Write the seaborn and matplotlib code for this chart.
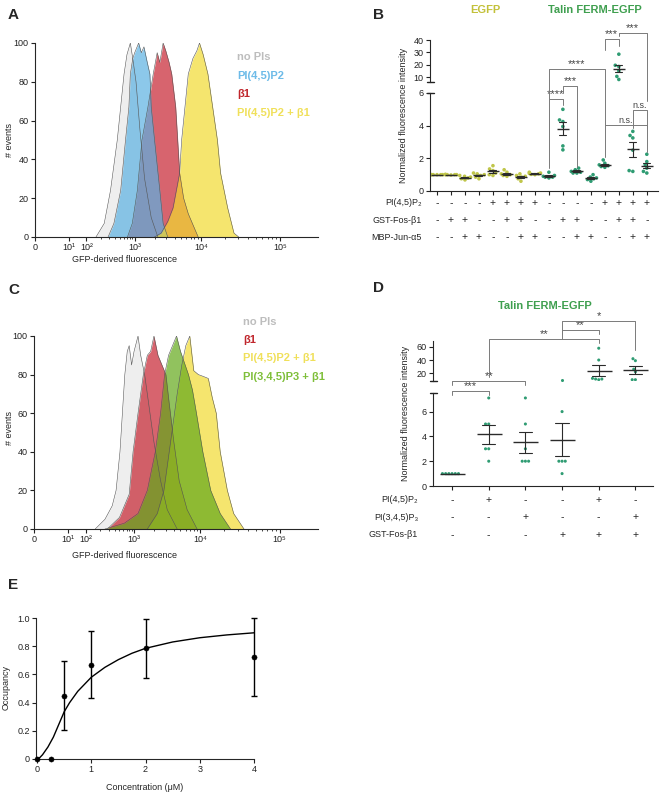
"""Flow cytometry histograms and talin FERM binding summary (panels A-E)."""

import warnings

import matplotlib

matplotlib.use("Agg")
import matplotlib.pyplot as plt
import numpy as np
import pandas as pd
import seaborn as sns

warnings.filterwarnings("ignore")

W, H = 661, 796

# ---- A: flow histograms, log10(GFP fluorescence) vs # events
A_NOPI_LOG = [2.2, 2.37, 2.5, 2.64, 2.71, 2.78, 2.84, 2.91, 2.96, 3.02, 3.08, 3.15, 3.25, 3.35]
A_NOPI_CNT = [0, 7, 24, 50, 67, 84, 94, 100, 92, 80, 55, 30, 10, 0]
A_PIP2_LOG = [2.45, 2.57, 2.71, 2.81, 2.88, 2.91, 2.96, 3.0, 3.06, 3.1, 3.14, 3.19, 3.23, 3.25, 3.3,
              3.38, 3.43, 3.5]
A_PIP2_CNT = [0, 7, 24, 50, 67, 84, 92, 95, 100, 95, 98, 90, 84, 67, 50, 24, 7, 0]
A_B1_LOG = [2.85, 2.95, 3.04, 3.11, 3.2, 3.28, 3.34, 3.38, 3.43, 3.47, 3.52, 3.56, 3.62, 3.65, 3.68,
            3.74, 3.81, 3.96]
A_B1_CNT = [0, 7, 24, 50, 67, 84, 95, 90, 100, 96, 90, 84, 67, 50, 33, 20, 12, 0]
A_BOTH_LOG = [3.3, 3.4, 3.5, 3.58, 3.68, 3.71, 3.76, 3.81, 3.88, 3.94, 3.98, 4.03, 4.09, 4.15, 4.21,
              4.25, 4.34, 4.42, 4.48]
A_BOTH_CNT = [0, 2, 8, 15, 33, 50, 67, 84, 92, 96, 100, 94, 84, 67, 50, 33, 15, 2, 0]

# ---- C: flow histograms
C_NOPI_LOG = [2.2, 2.4, 2.55, 2.63, 2.71, 2.76, 2.81, 2.86, 2.9, 2.95, 3.0, 3.06, 3.1, 3.16, 3.22,
              3.3, 3.4, 3.5, 3.65]
C_NOPI_CNT = [0, 5, 12, 20, 40, 60, 80, 92, 95, 85, 92, 100, 90, 80, 65, 45, 25, 10, 0]
C_B1_LOG = [2.45, 2.7, 2.9, 2.98, 3.06, 3.14, 3.2, 3.25, 3.3, 3.36, 3.42, 3.48, 3.53, 3.6, 3.68,
            3.8, 3.95]
C_B1_CNT = [0, 6, 18, 40, 60, 80, 90, 92, 100, 90, 85, 80, 65, 45, 25, 10, 0]
C_PIP2_LOG = [3.2, 3.35, 3.45, 3.55, 3.65, 3.72, 3.78, 3.84, 3.9, 3.97, 4.04, 4.1, 4.15, 4.2, 4.25,
              4.34, 4.42, 4.55]
C_PIP2_CNT = [0, 8, 20, 45, 70, 85, 95, 100, 82, 80, 79, 78, 68, 60, 40, 20, 8, 0]
C_PIP3_LOG = [2.4, 2.8, 3.06, 3.2, 3.32, 3.4, 3.46, 3.52, 3.58, 3.64, 3.7, 3.76, 3.82, 3.88, 3.94,
              4.03, 4.13, 4.25, 4.38]
C_PIP3_CNT = [0, 3, 8, 20, 40, 60, 80, 90, 95, 100, 92, 86, 80, 72, 60, 40, 20, 8, 0]

FLOW_TICKS = [0, 10, 100, 1e3, 1e4, 1e5]
FLOW_TICKLABELS = ["0", "10¹", "10²", "10³", "10⁴", "10⁵"]

# ---- B: normalized fluorescence, 16 conditions
B_VALUES = [
    [1.0, 1.0, 1.0, 1.0, 1.0, 1.0],
    [1.0, 0.98, 1.0, 1.02, 1.0, 1.0],
    [0.95, 0.85, 0.75, 0.68, 0.8, 0.9],
    [0.75, 0.85, 0.95, 1.0, 1.05, 1.1],
    [1.55, 1.35, 1.25, 1.1, 1.0, 0.95],
    [1.3, 1.15, 1.05, 1.0, 0.95, 0.9],
    [1.05, 0.95, 0.9, 0.85, 0.75, 0.6],
    [1.15, 1.1, 1.08, 1.05, 1.02, 1.0],
    [1.15, 0.95, 0.9, 0.85, 0.8, 0.85],
    [5.0, 4.25, 4.35, 3.95, 2.76, 2.52],
    [1.4, 1.3, 1.2, 1.15, 1.1, 1.1],
    [1.0, 0.85, 0.8, 0.75, 0.7, 0.6],
    [1.9, 1.7, 1.6, 1.55, 1.5, 1.45],
    [28.5, 19.5, 18.5, 15.0, 10.5, 8.0],
    [3.65, 3.4, 3.25, 2.5, 1.25, 1.2],
    [2.25, 1.8, 1.6, 1.4, 1.2, 1.1],
]
B_PROBE = ["EGFP"] * 8 + ["Talin FERM-EGFP"] * 8
B_ROWS = ["PI(4,5)P₂", "GST-Fos-β1", "MBP-Jun-α5"]
B_SIGNS = ["----++++----++++", "-++--++--++--++-", "--++--++--++--++"]
# (group 1, group 2, bar height, leg 1 end, leg 2 end, label) in lower-axis units
B_BRACKETS = [
    (8, 9, 5.64, 1.4, 5.28, "****"),
    (9, 10, 6.44, 6.0, 1.45, "***"),
    (8, 12, 7.48, 5.64, 4.05, "****"),
    (12, 13, 9.3, 8.65, 8.85, "***"),
    (13, 15, 9.67, 9.47, 5.5, "***"),
    (12, 15, 4.05, 2.1, 3.85, "n.s."),
    (14, 15, 4.97, 3.85, 2.41, "n.s."),
]

# ---- D: normalized fluorescence, 6 conditions
D_VALUES = [
    [1.0, 1.0, 1.0, 1.0, 1.0, 1.0],
    [7.1, 5.0, 5.0, 3.0, 3.0, 2.0],
    [7.1, 5.0, 3.0, 2.0, 2.0, 2.0],
    [9.5, 6.0, 2.0, 2.0, 2.0, 1.0],
    [58, 40, 12, 11, 11, 10],
    [42, 39, 26, 22, 10, 10],
]
D_ROWS = ["PI(4,5)P₂", "PI(3,4,5)P₃", "GST-Fos-β1"]
D_SIGNS = ["-+--+-", "--+--+", "---+++"]
D_BRACKETS = [
    (0, 1, 7.69, 7.34, 7.34, "***"),
    (0, 2, 8.49, 8.15, 8.15, "**"),
    (1, 4, 11.83, 8.81, 11.53, "**"),
    (3, 4, 12.58, 12.26, 12.26, "**"),
    (3, 5, 13.3, 11.83, 10.97, "*"),
]

# ---- E: occupancy vs concentration
E_CONC = [0, 0.25, 0.5, 1, 2, 4]
E_OCC = [0, 0, 0.45, 0.67, 0.785, 0.725]
E_SEM = [np.nan, np.nan, 0.245, 0.24, 0.21, 0.275]
E_FIT_X = [0, 0.05, 0.1, 0.2, 0.3, 0.4, 0.5, 0.6, 0.75, 1.0, 1.25, 1.5, 1.75, 2.0, 2.5, 3.0, 3.5, 4.0]
E_FIT_Y = [0, 0.01, 0.03, 0.085, 0.155, 0.245, 0.335, 0.40, 0.48, 0.58, 0.65, 0.705, 0.75, 0.785,
           0.83, 0.86, 0.88, 0.895]

GRAY, BLUE, RED, YELLOW, LIME = "#e7e7e7", "#5bb1e2", "#c62230", "#f1db30", "#62a91a"
OLIVE, TEAL = "#c0c64a", "#2f9c73"
FS = 6.5

sns.set_style("ticks")
plt.rcParams["font.family"] = ["Liberation Sans", "DejaVu Sans"]
plt.rcParams["axes.linewidth"] = 0.8

fig = plt.figure(figsize=(W / 100, H / 100), dpi=100)


def px_rect(l, t, r, b):
    return [l / W, 1 - b / H, (r - l) / W, (b - t) / H]


def ftxt(x, y, s, **kw):
    kw.setdefault("ha", "center")
    kw.setdefault("va", "center")
    fig.text(x / W, 1 - y / H, s, **kw)


# logicle-like display axis
SCALE_LOGS = [0, 1, 2, 3, 4, 5, 5.5]
SCALE_POS = [0, 34, 52, 101, 168, 248, 292]


def _fwd(x):
    x = np.clip(np.asarray(x, dtype=float), 1, None)
    return np.interp(np.log10(x), SCALE_LOGS, SCALE_POS)


def _inv(p):
    return 10 ** np.interp(np.asarray(p, dtype=float), SCALE_POS, SCALE_LOGS)


def style_ax(ax):
    sns.despine(ax=ax)
    ax.tick_params(labelsize=FS, length=3, width=0.8, pad=1.5, colors="#222222")


def flow_panel(rect, hists):
    ax = fig.add_axes(rect)
    ax.set_xscale("function", functions=(_fwd, _inv))
    for logs, cnts, color in hists:
        x = 10 ** np.asarray(logs)
        ax.fill_between(x, cnts, color=color, alpha=0.7, lw=0)
        sns.lineplot(x=x, y=cnts, ax=ax, color="#555555", lw=0.4, sort=False, estimator=None)
    ax.set_xlim(0, 10 ** 5.44)
    ax.set_ylim(0, 100)
    ax.set_yticks([0, 20, 40, 60, 80, 100])
    ax.set_xticks(FLOW_TICKS)
    ax.set_xticklabels(FLOW_TICKLABELS)
    ax.set_xticks([k * 10 ** d for d in (2, 3, 4) for k in range(2, 10)], minor=True)
    ax.tick_params(axis="x", which="minor", length=1.5, width=0.6)
    ax.set_xlabel("")
    ax.set_ylabel("")
    style_ax(ax)
    return ax


flow_panel(px_rect(35, 43, 318, 237), [
    (A_NOPI_LOG, A_NOPI_CNT, GRAY),
    (A_B1_LOG, A_B1_CNT, RED),
    (A_PIP2_LOG, A_PIP2_CNT, BLUE),
    (A_BOTH_LOG, A_BOTH_CNT, YELLOW),
])
for y, s, c in [(57, "no PIs", "#bdbdbd"), (76, "PI(4,5)P2", "#6dbbe8"),
                (94, "β1", "#c0262c"), (113, "PI(4,5)P2 + β1", "#f0e05a")]:
    ftxt(237, y, s, ha="left", color=c, fontsize=8, fontweight="bold")
ftxt(10, 140, "# events", rotation=90, fontsize=FS)
ftxt(125, 260, "GFP-derived fluorescence", fontsize=FS)

flow_panel(px_rect(34, 336, 318, 529), [
    (C_NOPI_LOG, C_NOPI_CNT, GRAY),
    (C_B1_LOG, C_B1_CNT, RED),
    (C_PIP2_LOG, C_PIP2_CNT, YELLOW),
    (C_PIP3_LOG, C_PIP3_CNT, LIME),
])
for y, s, c in [(322, "no PIs", "#bdbdbd"), (340, "β1", "#c0262c"),
                (358, "PI(4,5)P2 + β1", "#f0e05a"), (377, "PI(3,4,5)P3 + β1", "#7fbf3a")]:
    ftxt(243, y, s, ha="left", color=c, fontsize=8, fontweight="bold")
ftxt(10, 428, "# events", rotation=90, fontsize=FS)
ftxt(125, 556, "GFP-derived fluorescence", fontsize=FS)


def broken_panel(top_rect, low_rect, df, palette, top_lim, low_lim, top_ticks, low_ticks,
                 n, xlim, dot, mean_w, cap):
    axes = [fig.add_axes(top_rect), fig.add_axes(low_rect)]
    order = list(range(n))
    for ax, lim, ticks in zip(axes, (top_lim, low_lim), (top_ticks, low_ticks)):
        # each piece of the broken axis only shows the dots inside its own range
        sub = df[(df["val"] >= lim[0]) & (df["val"] <= lim[1])]
        sns.swarmplot(data=sub, x="group", y="val", hue="probe", palette=palette, size=dot,
                      order=order, legend=False, ax=ax, zorder=2)
        sns.pointplot(data=df, x="group", y="val", errorbar="se", color="#2b2b2b", marker="_",
                      markersize=mean_w, markeredgewidth=1.0, linestyle="none", capsize=cap,
                      order=order, err_kws={"linewidth": 0.8, "zorder": 4}, zorder=5, ax=ax)
        ax.set_ylim(*lim)
        ax.set_yticks(ticks)
        ax.set_xlim(*xlim)
        ax.set_xlabel("")
        ax.set_ylabel("")
        style_ax(ax)
    top, low = axes
    top.spines["bottom"].set_visible(False)
    top.tick_params(axis="x", bottom=False, labelbottom=False)
    low.set_xticks(order)
    low.set_xticklabels([])
    # break marks at the ends of both spine pieces
    w = 3.5 / (top_rect[2] * W)
    top.plot([-w, w], [0, 0], transform=top.transAxes, color="#222222", lw=1, clip_on=False)
    low.plot([-w, w], [1, 1], transform=low.transAxes, color="#222222", lw=1, clip_on=False)
    return top, low


def brackets(ax, items):
    for x1, x2, y, y1, y2, label in items:
        ax.plot([x1, x1, x2, x2], [y1, y, y, y2], color="#7a7a7a", lw=0.7, clip_on=False, zorder=6)
        stars = label.startswith("*")
        ax.text((x1 + x2) / 2, y, label, ha="center", va="bottom", color="#444444",
                fontsize=8 if stars else 6.5, clip_on=False)


def sign_rows(ax, rows, signs, ys, label_x):
    tr = ax.get_xaxis_transform()
    for name, row, y in zip(rows, signs, ys):
        ax.text(label_x, y, name, transform=ax.transAxes, ha="right", va="center", fontsize=FS)
        for i, s in enumerate(row):
            ax.text(i, y, s, transform=tr, ha="center", va="center", fontsize=7.5)


# ---- B
df_b = pd.DataFrame(
    [(g, v, B_PROBE[g]) for g, vals in enumerate(B_VALUES) for v in vals],
    columns=["group", "val", "probe"],
)
b_top, b_low = broken_panel(
    px_rect(430, 40, 658, 82), px_rect(430, 93, 658, 191), df_b,
    {"EGFP": OLIVE, "Talin FERM-EGFP": TEAL}, (5.95, 40), (0, 6), [10, 20, 30, 40], [0, 2, 4, 6],
    16, (-0.5, 15.8), 2.6, 9, 0.5,
)
brackets(b_low, B_BRACKETS)
sign_rows(b_low, B_ROWS, B_SIGNS, [-0.12, -0.30, -0.47], -0.035)
ftxt(485, 10, "EGFP", color="#c3c13a", fontsize=8, fontweight="bold")
ftxt(595, 10, "Talin FERM-EGFP", color="#3f9f4f", fontsize=8, fontweight="bold")
ftxt(403, 115, "Normalized fluorescence intensity", rotation=90, fontsize=FS)

# ---- D
df_d = pd.DataFrame(
    [(g, v, "Talin FERM-EGFP") for g, vals in enumerate(D_VALUES) for v in vals],
    columns=["group", "val", "probe"],
)
d_top, d_low = broken_panel(
    px_rect(433, 341, 653, 381), px_rect(433, 393, 653, 486), df_d,
    {"Talin FERM-EGFP": TEAL}, (8, 69), (0, 7.5), [20, 40, 60], [0, 2, 4, 6],
    6, (-0.52, 5.48), 2.2, 18, 0.36,
)
brackets(d_low, D_BRACKETS)
sign_rows(d_low, D_ROWS, D_SIGNS, [-0.15, -0.335, -0.525], -0.068)
ftxt(545, 306, "Talin FERM-EGFP", color="#3f9f4f", fontsize=8, fontweight="bold")
ftxt(405, 413, "Normalized fluorescence intensity", rotation=90, fontsize=FS)

# ---- E
ax_e = fig.add_axes(px_rect(36, 618, 254, 759))
sns.lineplot(x=E_FIT_X, y=E_FIT_Y, ax=ax_e, color="black", lw=1)
ax_e.errorbar(E_CONC, E_OCC, yerr=E_SEM, fmt="none", ecolor="black", elinewidth=1,
              capsize=2.5, capthick=1, clip_on=False)
sns.scatterplot(x=E_CONC, y=E_OCC, ax=ax_e, color="black", s=14, edgecolor="black",
                clip_on=False, zorder=5)
ax_e.set_xlim(-0.02, 4)
ax_e.set_ylim(0, 1)
ax_e.set_xticks([0, 1, 2, 3, 4])
ax_e.set_yticks([0, 0.2, 0.4, 0.6, 0.8, 1.0])
ax_e.set_yticklabels(["0", "0.2", "0.4", "0.6", "0.8", "1.0"])
style_ax(ax_e)
ftxt(145, 788, "Concentration (μM)", fontsize=FS)
ftxt(6, 688, "Occupancy", rotation=90, fontsize=FS)

for x, y, s in [(8, 15, "A"), (373, 15, "B"), (8, 290, "C"), (373, 288, "D"), (8, 585, "E")]:
    ftxt(x, y, s, ha="left", fontsize=11, fontweight="bold")

fig.savefig("out.png", dpi=100)
